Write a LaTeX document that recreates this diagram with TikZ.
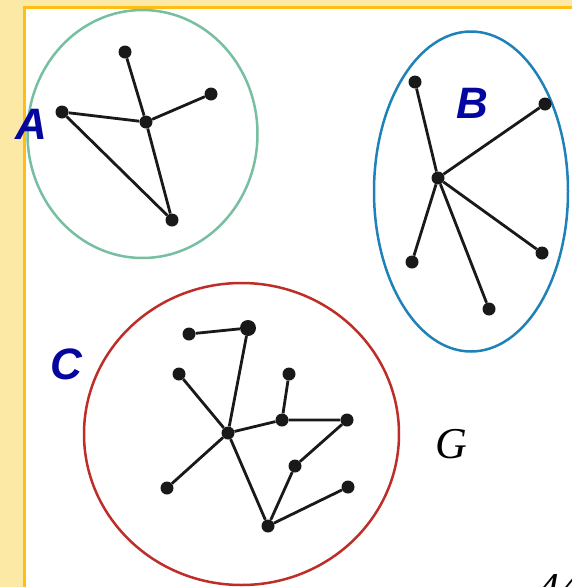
\documentclass[tikz,border=0pt]{standalone}
\usepackage{fontspec}
\setmainfont{Liberation Serif}
\newfontfamily\labelfont{Liberation Sans}
\definecolor{paper}{RGB}{251,233,165}
\definecolor{frameline}{RGB}{255,190,20}
\definecolor{setA}{RGB}{120,190,160}
\definecolor{setB}{RGB}{30,130,185}
\definecolor{setC}{RGB}{190,45,40}
\definecolor{setlabel}{RGB}{5,5,160}
\tikzset{
  vertex/.style={circle, fill=black!90, inner sep=0pt, minimum size=13pt},
  bigvertex/.style={vertex, minimum size=16pt},
  edge/.style={line width=2.8pt, black!90},
  setname/.style={font=\labelfont\bfseries\itshape\fontsize{44}{48}\selectfont, text=setlabel},
}
\begin{document}
\begin{tikzpicture}[x=1pt,y=-1pt]
    \useasboundingbox (0,0) rectangle (572,587);
    \clip (0,0) rectangle (572,587);
    % paper and frame
    \fill[paper] (0,0) rectangle (572,587);
    \fill[white] (24,7) rectangle (580,600);
    \draw[frameline, line width=3pt] (24,600) -- (24,7) -- (580,7);

    % set A
    \draw[setA, line width=2.5pt] (142.5,134) ellipse (115 and 124);
    \node[vertex] (a1) at (125,52) {};
    \node[vertex] (a2) at (211,94) {};
    \node[vertex] (a3) at (62,112) {};
    \node[vertex] (a4) at (146,122) {};
    \node[vertex] (a5) at (172,220) {};
    \draw[edge] (a1) -- (a4) (a2) -- (a4) (a3) -- (a4) (a3) -- (a5) (a4) -- (a5);
    \node[setname] (labA) at (31,124) {A};

    % set B
    \draw[setB, line width=2.5pt] (471,191.5) ellipse (97 and 160);
    \node[vertex] (b0) at (438,178) {};
    \node[vertex] (b1) at (415,82) {};
    \node[vertex] (b2) at (545,104) {};
    \node[vertex] (b3) at (412,262) {};
    \node[vertex] (b4) at (542,253) {};
    \node[vertex] (b5) at (489,309) {};
    \foreach \v in {b1,b2,b3,b4,b5}
        \draw[edge] (b0) -- (\v);
    \node[setname] (labB) at (472,103) {B};

    % set C
    \draw[setC, line width=2.5pt] (241.5,434) ellipse (157.5 and 151);
    \node[vertex] (c1) at (189,334) {};
    \node[bigvertex] (c2) at (248,328) {};
    \node[vertex] (c3) at (179,374) {};
    \node[vertex] (c4) at (289,374) {};
    \node[vertex] (c5) at (228,433) {};
    \node[vertex] (c6) at (282,420) {};
    \node[vertex] (c7) at (347,420) {};
    \node[vertex] (c8) at (295,466) {};
    \node[vertex] (c9) at (167,488) {};
    \node[vertex] (c10) at (348,487) {};
    \node[vertex] (c11) at (268,526) {};
    \draw[edge] (c1) -- (c2) (c2) -- (c5) (c3) -- (c5) (c5) -- (c6)
        (c6) -- (c4) (c6) -- (c7) (c7) -- (c8) (c8) -- (c11)
        (c5) -- (c9) (c5) -- (c11) (c11) -- (c10);
    \node[setname] (labC) at (66,364) {C};

    % graph name and page number
    \node[font=\itshape\fontsize{44}{48}\selectfont] (gname) at (451,444) {G};
    \node[font=\itshape\fontsize{44}{48}\selectfont, anchor=north west, inner sep=0pt] (page) at (537,574) {44};
\end{tikzpicture}
\end{document}
